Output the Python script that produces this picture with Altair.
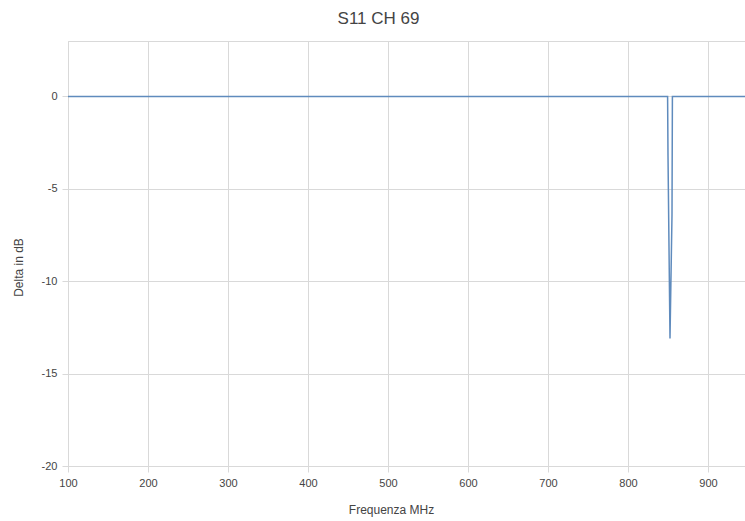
import altair as alt
import pandas as pd

freq_mhz = [100, 849.5, 850, 852.5, 855, 855.5, 950]
delta_db = [0, 0, -3.2, -13.1, -6.4, 0, 0]
x_ticks = [100, 200, 300, 400, 500, 600, 700, 800, 900]
y_ticks = [0, -5, -10, -15, -20]

df = pd.DataFrame({"f": freq_mhz, "d": delta_db})

FONT = "Liberation Sans"
GRID = "#d9d9d9"
TXT = "#444444"

chart = alt.Chart(df).mark_line(color="#5f8bbd", strokeWidth=1.5, clip=True).encode(
    x=alt.X("f:Q", scale=alt.Scale(domain=[100, 946.25], nice=False, zero=False),
            axis=alt.Axis(title="Frequenza MHz", values=x_ticks, labelExpr="toString(datum.value)",
                          labelFlush=False, labelFontSize=11, titleFontSize=12, titleFontWeight="normal",
                          labelColor=TXT, titleColor=TXT, labelFont=FONT, titleFont=FONT,
                          gridColor=GRID, domainColor=GRID, tickColor=GRID,
                          tickSize=6, labelPadding=5, titleX=323, titleY=43, titleBaseline="middle")),
    y=alt.Y("d:Q", scale=alt.Scale(domain=[-20, 3], nice=False, zero=False),
            axis=alt.Axis(title="Delta in dB", values=y_ticks, labelExpr="toString(datum.value)",
                          labelFontSize=11, titleFontSize=12, titleFontWeight="normal",
                          labelColor=TXT, titleColor=TXT, labelFont=FONT, titleFont=FONT,
                          gridColor=GRID, domainColor=GRID, tickColor=GRID,
                          tickSize=6, labelPadding=5, titleX=-50, titleY=226, titleAngle=270,
                          titleBaseline="middle", titleAlign="center")),
).properties(
    width=677, height=425,
    padding={"left": 68, "top": 41, "right": 0, "bottom": 55},
    autosize=alt.AutoSizeParams(type="none"),
    title=alt.TitleParams("S11 CH 69", fontSize=17, fontWeight="normal", font=FONT,
                          color=TXT, dx=-28, offset=13),
).configure_view(stroke=GRID)

chart.save("out.html", embed_options={"renderer": "svg", "actions": False})
